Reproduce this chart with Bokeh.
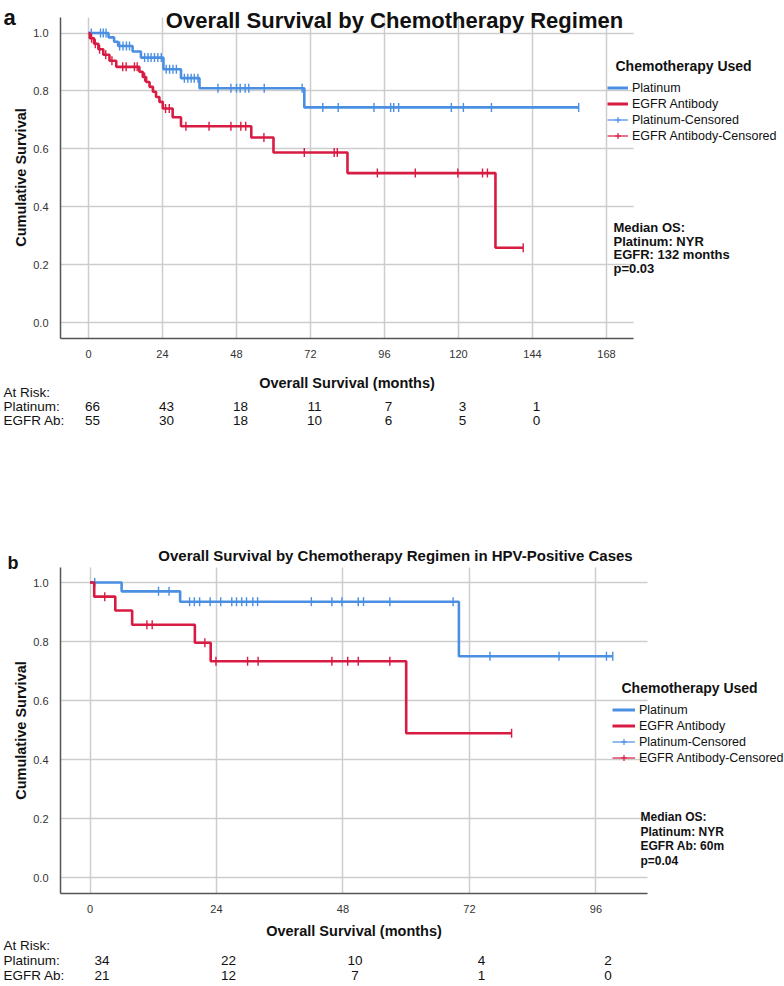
import numpy as np
from bokeh.plotting import figure
from bokeh.models import Range1d, FixedTicker, PrintfTickFormatter, Label, Legend, LegendItem
from bokeh.layouts import column
from bokeh.embed import file_html
from bokeh.resources import INLINE

FONT = "Liberation Sans"
BLUE = "#4a8fe2"
RED = "#d81b42"
GRID = "#cdcdcd"
AXIS = "#555555"

# ---------------- Panel a data ----------------
xticks_a = [0, 24, 48, 72, 96, 120, 144, 168]
plat_a_event_t = [6.5, 8.3, 9.6, 14.3, 17.0, 24.3, 30.0, 36.0, 70.0]
plat_a_surv = [0.985, 0.970, 0.955, 0.936, 0.915, 0.875, 0.844, 0.809, 0.743]
plat_a_cens = [0.9, 3.9, 4.8, 5.7, 10.1, 11.2, 12.3, 13.3, 18.2, 19.3, 20.3, 21.4, 22.5, 23.6,
               25.2, 26.3, 27.4, 28.5, 31.1, 32.2, 33.3, 34.3, 35.5, 42.0, 46.2, 48.0, 49.2,
               50.8, 52.0, 57.0, 69.3, 76.0, 81.0, 92.6, 98.0, 99.0, 100.6, 117.7, 121.6, 130.7, 159.0]
egfr_a_event_t = [0.4, 1.8, 3.2, 4.8, 6.8, 9.0, 16.5, 17.6, 18.7, 19.8, 20.9, 21.9, 23.0, 24.1,
                  27.3, 30.0, 52.8, 60.0, 84.0, 132.0]
egfr_a_surv = [0.982, 0.963, 0.944, 0.925, 0.904, 0.883, 0.866, 0.848, 0.831, 0.814, 0.797,
               0.779, 0.762, 0.739, 0.709, 0.678, 0.639, 0.587, 0.516, 0.258]
egfr_a_cens = [1.0, 2.2, 3.6, 5.6, 7.6, 11.1, 12.2, 14.9, 15.8, 18.2, 25.0, 26.2, 31.6, 39.1,
               46.2, 49.4, 51.0, 56.9, 70.0, 79.7, 80.7, 93.7, 106.0, 119.8, 127.8, 129.4, 141.0]
atrisk_times_a = [0, 24, 48, 72, 96, 120, 144]
atrisk_plat_a = ["66", "43", "18", "11", "7", "3", "1"]
atrisk_egfr_a = ["55", "30", "18", "10", "6", "5", "0"]
median_a = ["Median OS:", "Platinum: NYR", "EGFR: 132 months", "p=0.03"]

# ---------------- Panel b data ----------------
xticks_b = [0, 24, 48, 72, 96]
plat_b_event_t = [6.0, 17.1, 70.0]
plat_b_surv = [0.970, 0.935, 0.750]
plat_b_cens = [0.9, 13.0, 15.0, 18.9, 19.8, 20.8, 22.8, 24.8, 26.9, 27.8, 28.8, 29.7, 30.9,
               31.8, 42.0, 45.9, 47.8, 50.9, 51.9, 56.9, 68.9, 75.9, 89.0, 98.0, 99.2]
egfr_b_event_t = [0.8, 4.8, 8.0, 19.9, 22.9, 60.0]
egfr_b_surv = [0.952, 0.905, 0.857, 0.796, 0.733, 0.489]
egfr_b_cens = [2.8, 10.8, 11.8, 21.8, 23.9, 29.9, 31.9, 45.9, 48.9, 50.9, 56.9, 80.0]
atrisk_times_b = [0, 24, 48, 72, 96]
atrisk_plat_b = ["34", "22", "10", "4", "2"]
atrisk_egfr_b = ["21", "12", "7", "1", "0"]
median_b = ["Median OS:", "Platinum: NYR", "EGFR Ab: 60m", "p=0.04"]

yticks = [0.0, 0.2, 0.4, 0.6, 0.8, 1.0]
legend_labels = ["Platinum", "EGFR Antibody", "Platinum-Censored", "EGFR Antibody-Censored"]


def km(event_t, surv, cens):
    end = max(max(cens), max(event_t))
    xs = [0.0] + list(event_t) + [end]
    ys = [1.0] + list(surv) + [surv[-1]]

    def s_at(t):
        v = 1.0
        for et, s in zip(event_t, surv):
            if et <= t:
                v = s
        return v
    return xs, ys, [s_at(t) for t in cens]


class Panel:
    def __init__(self, W, H, x0px, kx, y1px, ky, box, xticks, curves, leg_xy, glyph_w):
        self.H = H
        xr = (-x0px / kx, (W - x0px) / kx)
        yr = (1 - (H - y1px) / ky, 1 + y1px / ky)
        left, right, top, bottom = box
        bx = ((left - x0px) / kx, (right - x0px) / kx)
        by = (1 - (bottom - y1px) / ky, 1 - (top - y1px) / ky)
        p = figure(width=W, height=H, x_range=Range1d(*xr), y_range=Range1d(*yr),
                   min_border_left=0, min_border_right=0, min_border_top=0,
                   min_border_bottom=0, toolbar_location=None, output_backend="svg",
                   title=None)
        p.outline_line_color = None
        for ax in (p.xaxis[0], p.yaxis[0]):
            ax.axis_line_color = AXIS
            ax.axis_line_width = 1.5
            ax.major_tick_line_color = None
            ax.minor_tick_line_color = None
            ax.major_label_text_font = FONT
            ax.major_label_text_font_size = "11px"
            ax.major_label_text_color = "#333333"
        p.xaxis.ticker = FixedTicker(ticks=xticks)
        p.yaxis.ticker = FixedTicker(ticks=yticks)
        p.yaxis.formatter = PrintfTickFormatter(format="%.1f")
        p.xaxis.bounds = bx
        p.yaxis.bounds = by
        p.xaxis.fixed_location = by[0]
        p.yaxis.fixed_location = bx[0]
        p.xaxis.major_label_standoff = 5
        p.yaxis.major_label_standoff = 6
        try:
            p.xgrid.cross_bounds = by
            p.ygrid.cross_bounds = bx
            for g in (p.xgrid[0], p.ygrid[0]):
                g.grid_line_color = GRID
                g.grid_line_width = 1.5
        except Exception:
            p.xgrid.visible = False
            p.ygrid.visible = False
            p.segment(x0=xticks, x1=xticks, y0=[by[0]] * len(xticks), y1=[by[1]] * len(xticks),
                      line_color=GRID, line_width=1.5)
            p.segment(x0=[bx[0]] * len(yticks), x1=[bx[1]] * len(yticks), y0=yticks, y1=yticks,
                      line_color=GRID, line_width=1.5)
        for (et, sv, cn, col) in curves:
            xs, ys, cy = km(et, sv, cn)
            p.step(xs, ys, mode="after", line_color=col, line_width=2.6)
            p.scatter(cn, cy, marker="dash", angle=np.pi / 2, size=9, line_color=col,
                      line_width=1.4)
        nan = [np.nan]
        l1 = p.line(nan, nan, line_color=BLUE, line_width=3)
        l2 = p.line(nan, nan, line_color=RED, line_width=3)
        l3a = p.line(nan, nan, line_color=BLUE, line_width=1.2)
        l3b = p.scatter(nan, nan, marker="cross", line_color=BLUE, line_width=1.2, size=10)
        l4a = p.line(nan, nan, line_color=RED, line_width=1.2)
        l4b = p.scatter(nan, nan, marker="cross", line_color=RED, line_width=1.2, size=10)
        rends = [[l1], [l2], [l3a, l3b], [l4a, l4b]]
        leg = Legend(items=[LegendItem(label=t, renderers=r) for t, r in zip(legend_labels, rends)],
                     location=(leg_xy[0], H - leg_xy[1]), padding=0, margin=0, spacing=1,
                     glyph_width=glyph_w, glyph_height=15, label_height=15, label_standoff=4,
                     label_text_font=FONT, label_text_font_size="12.5px",
                     label_text_color="#111111", border_line_color=None,
                     background_fill_alpha=0)
        p.add_layout(leg)
        self.p = p

    def text(self, fx, fy, text, size, bold=False, align="left", baseline="middle",
             angle=0.0, data_x=False, x_offset=0):
        self.p.add_layout(Label(x=fx, y=self.H - fy, x_units="data" if data_x else "screen",
                                y_units="screen", text=text, text_font=FONT,
                                text_font_size=size,
                                text_font_style="bold" if bold else "normal",
                                text_align=align, text_baseline=baseline, angle=angle,
                                x_offset=x_offset, text_color="#111111"))


# ---------------- Figure a (page rows 0-456) ----------------
A = Panel(784, 456, 88, 3.083, 32.5, 289.5, (60, 633, 17, 338), xticks_a,
          [(plat_a_event_t, plat_a_surv, plat_a_cens, BLUE),
           (egfr_a_event_t, egfr_a_surv, egfr_a_cens, RED)], (607, 143), 21)
A.text(394, 20, "Overall Survival by Chemotherapy Regimen", "22px", bold=True,
       align="center", baseline="alphabetic")
A.text(3, 17, "a", "22px", bold=True, baseline="alphabetic")
A.text(20, 177, "Cumulative Survival", "14.5px", bold=True, align="center", angle=np.pi / 2)
A.text(346.5, 382, "Overall Survival (months)", "14.5px", bold=True, align="center")
A.text(615, 65, "Chemotherapy Used", "14px", bold=True)
for t, fy in zip(median_a, [227, 241, 254, 268]):
    A.text(613, fy, t, "13px", bold=True)
rows_a = [392, 406, 420]
for t, fy in zip(["At Risk:", "Platinum:", "EGFR Ab:"], rows_a):
    A.text(3, fy, t, "13.5px")
for t, a, b in zip(atrisk_times_a, atrisk_plat_a, atrisk_egfr_a):
    A.text(t, rows_a[1], a, "13.5px", align="center", data_x=True, x_offset=4)
    A.text(t, rows_a[2], b, "13.5px", align="center", data_x=True, x_offset=4)

# ---------------- Figure b (page rows 456-986) ----------------
B = Panel(784, 530, 89.5, 5.27, 126, 295, (60, 647, 111, 437), xticks_b,
          [(plat_b_event_t, plat_b_surv, plat_b_cens, BLUE),
           (egfr_b_event_t, egfr_b_surv, egfr_b_cens, RED)], (612, 309), 23)
B.text(395, 99, "Overall Survival by Chemotherapy Regimen in HPV-Positive Cases", "15px",
       bold=True, align="center", baseline="alphabetic")
B.text(7, 106, "b", "18px", bold=True, baseline="alphabetic")
B.text(20, 274, "Cumulative Survival", "14.5px", bold=True, align="center", angle=np.pi / 2)
B.text(353.5, 474, "Overall Survival (months)", "14.5px", bold=True, align="center")
B.text(621, 231, "Chemotherapy Used", "14px", bold=True)
for t, fy in zip(median_b, [360, 375, 389, 404]):
    B.text(640, fy, t, "12px", bold=True)
rows_b = [489, 504, 519]
for t, fy in zip(["At Risk:", "Platinum:", "EGFR Ab:"], rows_b):
    B.text(3, fy, t, "13.5px")
for t, a, b in zip(atrisk_times_b, atrisk_plat_b, atrisk_egfr_b):
    B.text(t, rows_b[1], a, "13.5px", align="center", data_x=True, x_offset=12)
    B.text(t, rows_b[2], b, "13.5px", align="center", data_x=True, x_offset=12)

layout = column(A.p, B.p, spacing=0)
open("out.html", "w").write(file_html(layout, INLINE))
